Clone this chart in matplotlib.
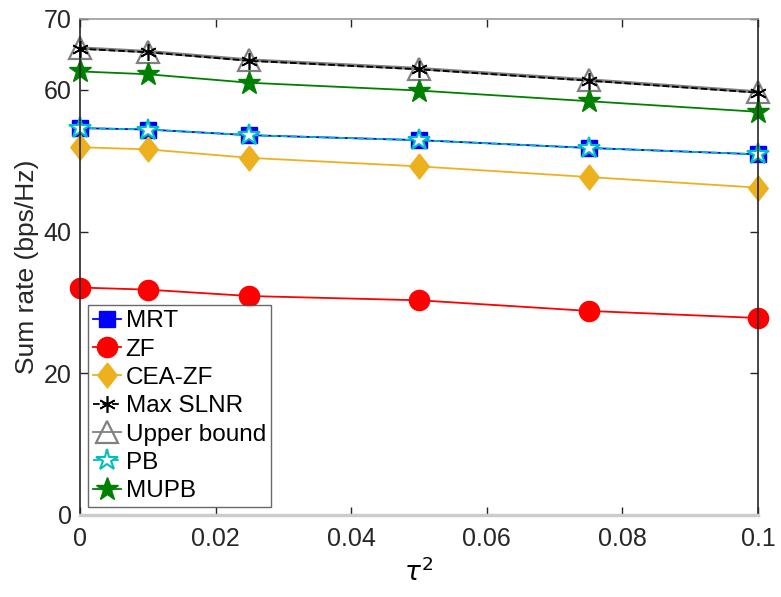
import matplotlib
matplotlib.use("Agg")
import matplotlib.pyplot as plt

plt.rcParams['font.family'] = ['Liberation Sans', 'DejaVu Sans']

# noise variance of the channel estimate
tau2 = [0, 0.01, 0.025, 0.05, 0.075, 0.1]

mrt = [54.6, 54.4, 53.6, 52.9, 51.8, 50.9]
zf = [32.1, 31.8, 30.9, 30.3, 28.8, 27.8]
cea_zf = [51.9, 51.6, 50.4, 49.2, 47.7, 46.2]
max_slnr = [65.8, 65.3, 64.1, 62.9, 61.3, 59.6]
upper = [65.9, 65.4, 64.2, 63.0, 61.4, 59.7]
pb = [54.6, 54.4, 53.6, 52.9, 51.8, 50.9]
mupb = [62.6, 62.2, 61.0, 59.9, 58.4, 56.9]

# tall diamond like the matlab one
diamond = [(0, 1), (0.78, 0), (0, -1), (-0.78, 0), (0, 1)]

fig = plt.figure(figsize=(7.81, 5.97), dpi=100)
ax = fig.add_axes([0.1024, 0.1374, 0.8682, 0.8308])

kw = dict(clip_on=False)
ax.plot(tau2, mrt, '-', color='blue', marker='s', ms=11, mfc='blue', mec='blue', lw=1.3, label='MRT', **kw)
ax.plot(tau2, zf, '-', color='red', marker='o', ms=14.5, mfc='red', mec='red', lw=1.3, label='ZF', **kw)
ax.plot(tau2, cea_zf, '-', color='#EDB120', marker=diamond, ms=18, mfc='#EDB120', mec='#EDB120', lw=1.3, label='CEA-ZF', **kw)
ax.plot(tau2, upper, '-', color='#808080', marker='^', ms=16, mfc='none', mec='#808080', mew=1.6, lw=2.4, zorder=2, **kw)
ax.plot(tau2, max_slnr, '--', color='black', marker=(6, 2, 0), ms=12, mec='black', mew=1.2, lw=1.3, label='Max SLNR', zorder=3, **kw)
ax.plot([], [], '-', color='#808080', marker='^', ms=16, mfc='none', mec='#808080', mew=1.6, lw=1.3, label='Upper bound')
ax.plot(tau2, pb, '--', color='#00BFBF', marker='*', ms=16, mfc='white', mec='#00BFBF', mew=1.5, lw=1.3, label='PB', **kw)
ax.plot(tau2, mupb, '-', color='green', marker='*', ms=17, mfc='green', mec='green', lw=1.3, label='MUPB', **kw)

# legend entries in the order they were listed
h, l = ax.get_legend_handles_labels()
order = ['MRT', 'ZF', 'CEA-ZF', 'Max SLNR', 'Upper bound', 'PB', 'MUPB']
hd = dict(zip(l, h))
leg = ax.legend([hd[k] for k in order], order, loc='lower left', bbox_to_anchor=(0.0118, 0.016),
                fontsize=17.5, frameon=True, fancybox=False, edgecolor='#444444',
                handlelength=1.15, handletextpad=0.2, borderpad=0.2, labelspacing=0.26,
                borderaxespad=0)
leg.get_frame().set_linewidth(1.0)

ax.set_xlim(0, 0.1)
ax.set_ylim(0, 70)
ax.set_xticks([0, 0.02, 0.04, 0.06, 0.08, 0.1])
ax.set_xticklabels(['0', '0.02', '0.04', '0.06', '0.08', '0.1'])
ax.set_yticks([0, 20, 40, 60, 70])
ax.tick_params(direction='in', length=6, width=1, labelsize=18, colors='#262626',
               top=True, right=True, pad=6)
ax.tick_params(axis='x', pad=9)
for s in ['left', 'right']:
    ax.spines[s].set_color('#262626')
ax.spines['top'].set_color('#999999')
ax.spines['bottom'].set_color('#cccccc')
for s in ax.spines.values():
    s.set_linewidth(1.2)
ax.spines['bottom'].set_linewidth(2.5)

ax.set_xlabel(r'$\tau^2$', fontsize=19, labelpad=4)
ax.set_ylabel('Sum rate (bps/Hz)', fontsize=19, color='#262626', labelpad=3)

fig.savefig('out.png', dpi=100)
